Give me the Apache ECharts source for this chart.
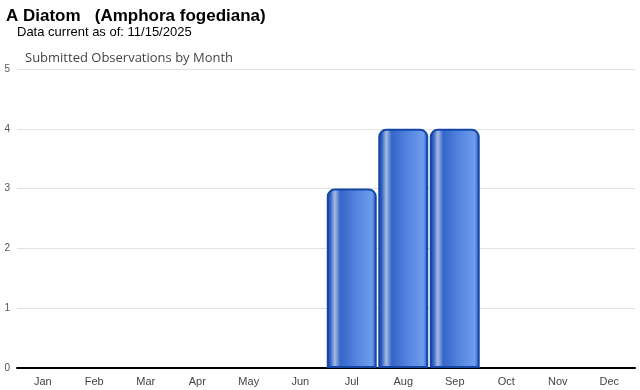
<!DOCTYPE html>
<html><head><meta charset="utf-8">
<script src="https://cdn.jsdelivr.net/npm/echarts@6/dist/echarts.min.js"></script>
<style>html,body{margin:0;padding:0;background:#fff}#c{width:640px;height:390px}</style>
</head><body><div id="c"></div>
<script>
const months = ['Jan','Feb','Mar','Apr','May','Jun','Jul','Aug','Sep','Oct','Nov','Dec'];
const observations = [0,0,0,0,0,0,3,4,4,0,0,0];
const yTicks = [0,1,2,3,4,5];

const chart = echarts.init(document.getElementById('c'));
const grad = new echarts.graphic.LinearGradient(0,0,1,0,[
  {offset:0, color:'#1a4cb0'},
  {offset:0.07, color:'#3060c4'},
  {offset:0.16, color:'#a6bbe0'},
  {offset:0.27, color:'#3465c9'},
  {offset:0.6, color:'#5486e0'},
  {offset:0.9, color:'#6e9cee'},
  {offset:1, color:'#2353b6'}
]);
chart.setOption({
  animation:false,
  title:[
    {text:'A Diatom   (Amphora fogediana)', left:6, top:8, padding:0, textStyle:{fontFamily:'Liberation Sans, Arial', fontSize:17, fontWeight:'bold', color:'#000'}},
    {text:'Data current as of: 11/15/2025', left:17, top:26, padding:0, textStyle:{fontFamily:'Liberation Sans, Arial', fontSize:13, fontWeight:'normal', color:'#000'}},
    {text:'Submitted Observations by Month', left:25, top:52, padding:0, textStyle:{fontFamily:'Open Sans, DejaVu Sans', fontSize:13, fontWeight:'normal', color:'#444'}}
  ],
  grid:{left:17, right:5, top:69, bottom:22},
  xAxis:{type:'category', data:months,
    axisLine:{lineStyle:{color:'#000', width:2}},
    axisTick:{alignWithLabel:true, length:3, lineStyle:{color:'#ccc'}},
    axisLabel:{fontFamily:'Liberation Sans, Arial', fontSize:11, color:'#444', margin:8}},
  yAxis:{type:'value', min:yTicks[0], max:yTicks[yTicks.length-1], interval:1,
    axisLine:{show:false}, axisTick:{show:false},
    splitLine:{lineStyle:{color:'#e2e2e2'}},
    axisLabel:{fontFamily:'Liberation Sans, Arial', fontSize:10, color:'#555', margin:7}},
  series:[{type:'bar', data:observations.map(v => v === 0 ? '-' : v), barWidth:'97%',
    itemStyle:{color:grad, borderColor:'#1446a6', borderWidth:2, borderRadius:[7,7,0,0]}}]
});
</script></body></html>
